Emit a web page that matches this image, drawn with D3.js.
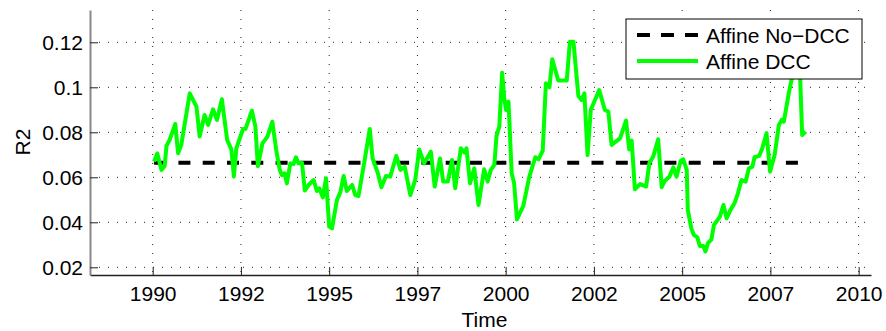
<!DOCTYPE html>
<html>
<head>
<meta charset="utf-8">
<script src="https://cdn.jsdelivr.net/npm/d3@7"></script>
<style>
body { margin: 0; background: #fff; }
text { font-family: "Liberation Sans", Arial, sans-serif; fill: #000; }
</style>
</head>
<body>
<svg id="chart" width="886" height="331"></svg>
<script>
// данные
let dccYears = [1990.04, 1990.13, 1990.25, 1990.34, 1990.39, 1990.48, 1990.64, 1990.72, 1990.81, 1991.05,
	1991.24, 1991.33, 1991.47, 1991.57, 1991.71, 1991.82, 1991.96, 1992.11, 1992.23, 1992.30,
	1992.37, 1992.56, 1992.63, 1992.81, 1992.91, 1992.98, 1993.11, 1993.25, 1993.39, 1993.50,
	1993.60, 1993.66, 1993.74, 1993.80, 1993.90, 1993.99, 1994.06, 1994.13, 1994.23, 1994.31,
	1994.42, 1994.56, 1994.65, 1994.72, 1994.82, 1994.91, 1995.00, 1995.08, 1995.22, 1995.32,
	1995.41, 1995.50, 1995.65, 1995.74, 1995.83, 1995.99, 1996.15, 1996.23, 1996.38, 1996.48,
	1996.61, 1996.73, 1996.90, 1997.02, 1997.14, 1997.30, 1997.44, 1997.55, 1997.69, 1997.88,
	1997.99, 1998.14, 1998.23, 1998.36, 1998.48, 1998.57, 1998.73, 1998.83, 1998.89, 1998.99,
	1999.11, 1999.23, 1999.39, 1999.49, 1999.58, 1999.68, 1999.74, 1999.82, 1999.90, 1999.96,
	2000.01, 2000.08, 2000.17, 2000.24, 2000.32, 2000.50, 2000.67, 2000.84, 2000.93, 2001.05,
	2001.14, 2001.24, 2001.32, 2001.49, 2001.73, 2001.82, 2001.92, 2002.06, 2002.15, 2002.23,
	2002.32, 2002.41, 2002.65, 2002.81, 2002.91, 2003.00, 2003.24, 2003.41, 2003.50, 2003.57,
	2003.66, 2003.81, 2003.98, 2004.07, 2004.18, 2004.32, 2004.42, 2004.51, 2004.64, 2004.75,
	2004.84, 2004.96, 2005.03, 2005.13, 2005.16, 2005.26, 2005.33, 2005.43, 2005.50, 2005.60,
	2005.66, 2005.73, 2005.83, 2005.90, 2006.00, 2006.07, 2006.17, 2006.26, 2006.37, 2006.49,
	2006.58, 2006.68, 2006.80, 2006.89, 2006.99, 2007.05, 2007.18, 2007.27, 2007.39, 2007.49,
	2007.62, 2007.74, 2007.82, 2007.88, 2008.02, 2008.12, 2008.22, 2008.33, 2008.40, 2008.50];
let dccValues = [0.0670, 0.0706, 0.0633, 0.0650, 0.0739, 0.0766, 0.0837, 0.0707, 0.0744, 0.0973,
	0.0914, 0.0781, 0.0877, 0.0833, 0.0902, 0.0855, 0.0947, 0.0766, 0.0724, 0.0603,
	0.0729, 0.0815, 0.0815, 0.0896, 0.0825, 0.0650, 0.0751, 0.0781, 0.0847, 0.0721,
	0.0633, 0.0610, 0.0618, 0.0573, 0.0662, 0.0659, 0.0689, 0.0662, 0.0665, 0.0541,
	0.0566, 0.0588, 0.0539, 0.0551, 0.0511, 0.0596, 0.0381, 0.0373, 0.0499, 0.0536,
	0.0606, 0.0539, 0.0566, 0.0521, 0.0517, 0.0662, 0.0815, 0.0684, 0.0618, 0.0556,
	0.0606, 0.0603, 0.0695, 0.0633, 0.0647, 0.0521, 0.0590, 0.0724, 0.0662, 0.0714,
	0.0559, 0.0684, 0.0581, 0.0581, 0.0677, 0.0551, 0.0729, 0.0710, 0.0729, 0.0573,
	0.0640, 0.0477, 0.0636, 0.0581, 0.0633, 0.0655, 0.0784, 0.0825, 0.1065, 0.0951,
	0.0899, 0.0936, 0.0618, 0.0573, 0.0413, 0.0473, 0.0603, 0.0689, 0.0680, 0.0719,
	0.1018, 0.1000, 0.1125, 0.1030, 0.1030, 0.1203, 0.1203, 0.0961, 0.0944, 0.0973,
	0.0699, 0.0899, 0.0988, 0.0899, 0.0892, 0.0744, 0.0773, 0.0852, 0.0724, 0.0763,
	0.0547, 0.0570, 0.0559, 0.0662, 0.0692, 0.0769, 0.0556, 0.0585, 0.0603, 0.0644,
	0.0603, 0.0674, 0.0680, 0.0633, 0.0455, 0.0373, 0.0344, 0.0333, 0.0295, 0.0295,
	0.0270, 0.0307, 0.0324, 0.0388, 0.0410, 0.0425, 0.0477, 0.0418, 0.0455, 0.0487,
	0.0529, 0.0588, 0.0581, 0.0640, 0.0647, 0.0689, 0.0695, 0.0729, 0.0796, 0.0625,
	0.0699, 0.0833, 0.0855, 0.0847, 0.0973, 0.1050, 0.1130, 0.1100, 0.0788, 0.0803];
let noDccYears = [1990.04, 2008.50];
let noDccValues = [0.0665, 0.0665];

let xTicks = [1990, 1992.5, 1995, 1997.5, 2000, 2002.5, 2005, 2007.5, 2010];
let xTickLabels = ["1990", "1992", "1995", "1997", "2000", "2002", "2005", "2007", "2010"];
let yTicks = [0.02, 0.04, 0.06, 0.08, 0.1, 0.12];
let yTickLabels = ["0.02", "0.04", "0.06", "0.08", "0.1", "0.12"];
let legendNames = ["Affine No\u2212DCC", "Affine DCC"];

let plotLeft = 90, plotRight = 871, plotTop = 10, plotBottom = 275;

let svg = d3.select("#chart");

let scaleX = d3.scaleLinear().domain([1988.224, 2010.35]).range([plotLeft, plotRight]);
let scaleY = d3.scaleLinear().domain([0.01658, 0.13436]).range([plotBottom, plotTop]);

// сетка
svg.append("g").selectAll("line")
	.data(xTicks)
	.enter()
	.append("line")
	.attr("x1", d => scaleX(d)).attr("x2", d => scaleX(d))
	.attr("y1", plotTop).attr("y2", plotBottom)
	.attr("stroke", "#222").attr("stroke-width", 1)
	.attr("stroke-dasharray", "1,8");
svg.append("g").selectAll("line")
	.data(yTicks)
	.enter()
	.append("line")
	.attr("x1", plotLeft).attr("x2", plotRight)
	.attr("y1", d => scaleY(d)).attr("y2", d => scaleY(d))
	.attr("stroke", "#222").attr("stroke-width", 1)
	.attr("stroke-dasharray", "1,8");

// оси
let axisX = d3.axisBottom(scaleX)
	.tickValues(xTicks)
	.tickSizeInner(-8).tickSizeOuter(0)
	.tickPadding(11)
	.tickFormat((d, i) => xTickLabels[i]);
let gx = svg.append("g")
	.attr("transform", `translate(0, ${plotBottom})`)
	.call(axisX);
gx.select(".domain").attr("stroke", "#222").attr("stroke-width", 1.5);
gx.selectAll(".tick line").attr("stroke", "#222");
gx.selectAll("text")
	.style("font-size", "21px")
	.style("font-family", "Liberation Sans, Arial, sans-serif");

let axisY = d3.axisLeft(scaleY)
	.tickValues(yTicks)
	.tickSizeInner(-8).tickSizeOuter(0)
	.tickPadding(7)
	.tickFormat((d, i) => yTickLabels[i]);
let gy = svg.append("g")
	.attr("transform", `translate(${plotLeft}, 0)`)
	.call(axisY);
gy.select(".domain").attr("stroke", "#888").attr("stroke-width", 2);
gy.selectAll(".tick line").attr("stroke", "#222");
gy.selectAll("text")
	.style("font-size", "21px")
	.style("font-family", "Liberation Sans, Arial, sans-serif");

// подписи осей
svg.append("text")
	.attr("x", (plotLeft + plotRight) / 2 + 4)
	.attr("y", 327)
	.attr("text-anchor", "middle")
	.style("font-size", "21px")
	.text("Time");
svg.append("text")
	.attr("transform", "translate(30, 142) rotate(-90)")
	.attr("text-anchor", "middle")
	.style("font-size", "21px")
	.text("R2");

// линии
let line = d3.line()
	.x(d => scaleX(d[0]))
	.y(d => scaleY(d[1]));

svg.append("path")
	.datum(noDccYears.map((d, i) => [d, noDccValues[i]]))
	.attr("d", line)
	.attr("fill", "none")
	.attr("stroke", "#000")
	.attr("stroke-width", 4)
	.attr("stroke-dasharray", "12,12.3");

svg.append("path")
	.datum(dccYears.map((d, i) => [d, dccValues[i]]))
	.attr("d", line)
	.attr("fill", "none")
	.attr("stroke", "#00ff00")
	.attr("stroke-width", 4)
	.attr("stroke-linejoin", "round");

// легенда
let legend = svg.append("g").attr("transform", "translate(626, 19)");
legend.append("rect")
	.attr("width", 236).attr("height", 60)
	.attr("fill", "#fff").attr("stroke", "#000").attr("stroke-width", 1);
legend.append("line")
	.attr("x1", 11).attr("x2", 72).attr("y1", 16).attr("y2", 16)
	.attr("stroke", "#000").attr("stroke-width", 4)
	.attr("stroke-dasharray", "13,11");
legend.append("line")
	.attr("x1", 11).attr("x2", 72).attr("y1", 42).attr("y2", 42)
	.attr("stroke", "#00ff00").attr("stroke-width", 4);
legend.selectAll("text.lg")
	.data(legendNames)
	.enter()
	.append("text")
	.attr("class", "lg")
	.attr("x", 80)
	.attr("y", (d, i) => 24 + i * 26)
	.style("font-size", "21px")
	.text(d => d);
</script>
</body>
</html>
